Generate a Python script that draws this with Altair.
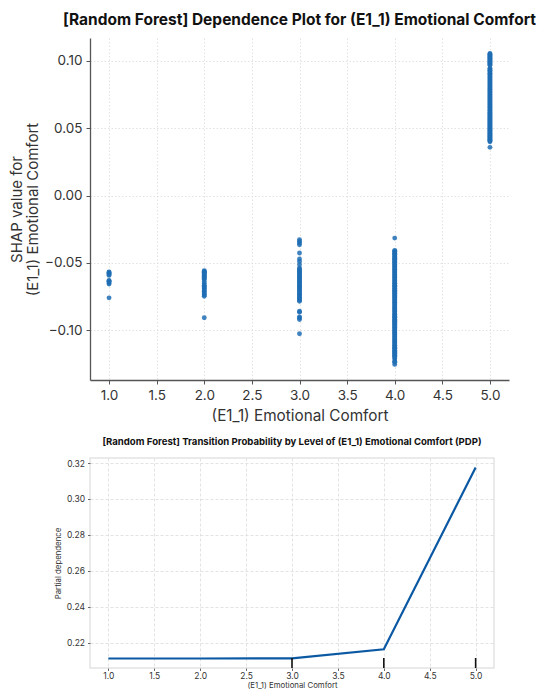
import altair as alt
import pandas as pd

# ---------------- data ----------------
shap_lvl1 = [-0.0568, -0.0572, -0.0578, -0.0585, -0.0593, -0.0630, -0.0636,
             -0.0641, -0.0650, -0.0657, -0.0760]
shap_lvl2 = [-0.0558, -0.0563, -0.0569, -0.0574, -0.0581, -0.0587, -0.0594,
             -0.0601, -0.0608, -0.0616, -0.0623, -0.0641, -0.0654, -0.0667,
             -0.0676, -0.0684, -0.0692, -0.0701, -0.0711, -0.0722, -0.0731,
             -0.0739, -0.0748, -0.0908]
shap_lvl3 = [-0.0328, -0.0341, -0.0353, -0.0365, -0.0427, -0.0471, -0.0489,
             -0.0513, -0.0538, -0.0547, -0.0556, -0.0564, -0.0571, -0.0580,
             -0.0588, -0.0597, -0.0606, -0.0613, -0.0622, -0.0632, -0.0640,
             -0.0647, -0.0657, -0.0666, -0.0674, -0.0682, -0.0691, -0.0701,
             -0.0708, -0.0716, -0.0727, -0.0735, -0.0743, -0.0753, -0.0761,
             -0.0768, -0.0777, -0.0785, -0.0859, -0.0866, -0.0901, -0.0910,
             -0.0921, -0.1027]
shap_lvl4 = [-0.0316, -0.0407, -0.0414, -0.0420, -0.0429, -0.0436, -0.0442,
             -0.0451, -0.0460, -0.0466, -0.0473, -0.0483, -0.0489, -0.0496,
             -0.0506, -0.0512, -0.0521, -0.0527, -0.0536, -0.0543, -0.0550,
             -0.0559, -0.0566, -0.0573, -0.0582, -0.0588, -0.0597, -0.0605,
             -0.0611, -0.0620, -0.0628, -0.0634, -0.0643, -0.0651, -0.0657,
             -0.0667, -0.0673, -0.0680, -0.0689, -0.0697, -0.0704, -0.0711,
             -0.0720, -0.0726, -0.0735, -0.0743, -0.0749, -0.0758, -0.0766,
             -0.0772, -0.0782, -0.0788, -0.0795, -0.0804, -0.0812, -0.0818,
             -0.0827, -0.0835, -0.0841, -0.0850, -0.0858, -0.0864, -0.0873,
             -0.0881, -0.0887, -0.0896, -0.0904, -0.0910, -0.0919, -0.0927,
             -0.0933, -0.0942, -0.0950, -0.0956, -0.0965, -0.0973, -0.0979,
             -0.0988, -0.0996, -0.1002, -0.1011, -0.1019, -0.1025, -0.1034,
             -0.1042, -0.1048, -0.1057, -0.1065, -0.1071, -0.1080, -0.1088,
             -0.1094, -0.1103, -0.1111, -0.1117, -0.1126, -0.1134, -0.1140,
             -0.1149, -0.1157, -0.1163, -0.1172, -0.1181, -0.1187, -0.1193,
             -0.1205, -0.1212, -0.1230, -0.1238, -0.1254]
shap_lvl5 = [0.1055, 0.1049, 0.1041, 0.1034, 0.1027, 0.1019, 0.1012, 0.1004,
             0.0997, 0.0990, 0.0983, 0.0975, 0.0968, 0.0946, 0.0939, 0.0931,
             0.0924, 0.0917, 0.0909, 0.0902, 0.0895, 0.0887, 0.0880, 0.0873,
             0.0865, 0.0858, 0.0851, 0.0843, 0.0836, 0.0829, 0.0821, 0.0814,
             0.0807, 0.0799, 0.0792, 0.0785, 0.0777, 0.0770, 0.0763, 0.0755,
             0.0748, 0.0741, 0.0733, 0.0726, 0.0719, 0.0711, 0.0704, 0.0697,
             0.0689, 0.0682, 0.0675, 0.0667, 0.0660, 0.0653, 0.0645, 0.0638,
             0.0631, 0.0623, 0.0616, 0.0609, 0.0601, 0.0594, 0.0587, 0.0579,
             0.0572, 0.0565, 0.0557, 0.0550, 0.0543, 0.0535, 0.0528, 0.0521,
             0.0513, 0.0506, 0.0499, 0.0491, 0.0484, 0.0477, 0.0469, 0.0462,
             0.0455, 0.0447, 0.0440, 0.0433, 0.0425, 0.0418, 0.0411, 0.0405,
             0.0400, 0.0358]
shap_levels = [1.0, 2.0, 3.0, 4.0, 5.0]

pdp_grid = [1.0, 2.0, 3.0, 4.0, 5.0]
pdp_value = [0.2111, 0.2111, 0.2112, 0.2162, 0.3175]
rug_deciles = [3.0, 4.0, 5.0]

x_ticks = [1.0, 1.5, 2.0, 2.5, 3.0, 3.5, 4.0, 4.5, 5.0]
shap_ticks = [-0.10, -0.05, 0.00, 0.05, 0.10]
pdp_ticks = [0.22, 0.24, 0.26, 0.28, 0.30, 0.32]

# ---------------- tables ----------------
rows = []
for lvl, vals in zip(shap_levels, [shap_lvl1, shap_lvl2, shap_lvl3, shap_lvl4, shap_lvl5]):
    for v in vals:
        rows.append({"feature": lvl, "shap": v})
shap_df = pd.DataFrame(rows)
pdp_df = pd.DataFrame({"grid": pdp_grid, "pd": pdp_value})
rug_df = pd.DataFrame({"grid": rug_deciles})

FONT = "Inter"

# ---------------- top: SHAP dependence ----------------
top = alt.Chart(shap_df).mark_circle(size=24, color="#1f6db4", opacity=0.85).encode(
    x=alt.X("feature:Q",
            scale=alt.Scale(domain=[0.8, 5.2], nice=False, zero=False),
            axis=alt.Axis(values=x_ticks, format=".1f", title="(E1_1) Emotional Comfort",
                          labelFont=FONT, labelFontSize=13.5, labelColor="#333",
                          titleFont=FONT, titleFontSize=15.3, titleFontWeight="normal",
                          titleColor="#333", titlePadding=7, labelPadding=4,
                          domainColor="#555", domainWidth=1.3, tickColor="#555",
                          tickSize=4, tickWidth=1, gridColor="#dadada", gridDash=[1.5, 2],
                          gridWidth=0.8)),
    y=alt.Y("shap:Q",
            scale=alt.Scale(domain=[-0.137, 0.117], nice=False, zero=False),
            axis=alt.Axis(values=shap_ticks, format=".2f",
                          title=["SHAP value for", "(E1_1) Emotional Comfort"],
                          labelFont=FONT, labelFontSize=13.5, labelColor="#333",
                          titleFont=FONT, titleFontSize=15, titleFontWeight="normal",
                          titleColor="#333", titlePadding=4, titleLineHeight=16.5,
                          labelPadding=4,
                          domainColor="#555", domainWidth=1.3, tickColor="#555",
                          tickSize=4, tickWidth=1, gridColor="#dadada", gridDash=[1.5, 2],
                          gridWidth=0.8)),
).properties(
    width=419, height=342,
    title=alt.TitleParams("[Random Forest] Dependence Plot for (E1_1) Emotional Comfort",
                          font=FONT, fontSize=15.5, fontWeight="bold", color="#111",
                          anchor="middle", offset=10),
    view=alt.ViewBackground(strokeOpacity=0),
)

# ---------------- bottom: PDP ----------------
xb = alt.X("grid:Q", scale=alt.Scale(domain=[0.8, 5.2], nice=False, zero=False),
           axis=alt.Axis(values=x_ticks, format=".1f", title="(E1_1) Emotional Comfort",
                         labelFont=FONT, labelFontSize=8.5, labelColor="#333",
                         titleFont=FONT, titleFontSize=7.8, titleFontWeight="normal",
                         titleColor="#333", titlePadding=2, labelPadding=0.5,
                         domain=False, tickColor="#444", tickSize=2.5, tickWidth=0.8,
                         gridColor="#dcdcdc", gridDash=[3, 2], gridWidth=0.8))
line = alt.Chart(pdp_df).mark_line(color="#0b58a3", strokeWidth=2.2).encode(
    x=xb,
    y=alt.Y("pd:Q", scale=alt.Scale(domain=[0.2058, 0.3228], nice=False, zero=False),
            axis=alt.Axis(values=pdp_ticks, format=".2f", title="Partial dependence",
                          labelFont=FONT, labelFontSize=8.5, labelColor="#333",
                          titleFont=FONT, titleFontSize=7.8, titleFontWeight="normal",
                          titleColor="#333", titlePadding=3.5, labelPadding=3,
                          domain=False, tickColor="#444", tickSize=2.5, tickWidth=0.8,
                          gridColor="#dcdcdc", gridDash=[3, 2], gridWidth=0.8)),
)
rug = alt.Chart(rug_df).mark_rule(color="#111", strokeWidth=1.6).encode(
    x=alt.X("grid:Q"), y=alt.value(200), y2=alt.value(210)
)
bottom = alt.layer(line, rug).properties(
    width=404, height=210,
    title=alt.TitleParams("[Random Forest] Transition Probability by Level of (E1_1) Emotional Comfort (PDP)",
                          font=FONT, fontSize=9.6, fontWeight="bold", color="#111",
                          anchor="middle", offset=11),
    view=alt.ViewBackground(stroke="#e3e3e3", strokeWidth=1.5),
)

chart = alt.vconcat(top, bottom, spacing=12).properties(
    padding={"top": 4, "left": 1, "right": 5, "bottom": 0},
    background="white",
)

chart.save("out.html", embed_options={"renderer": "svg", "actions": False})
